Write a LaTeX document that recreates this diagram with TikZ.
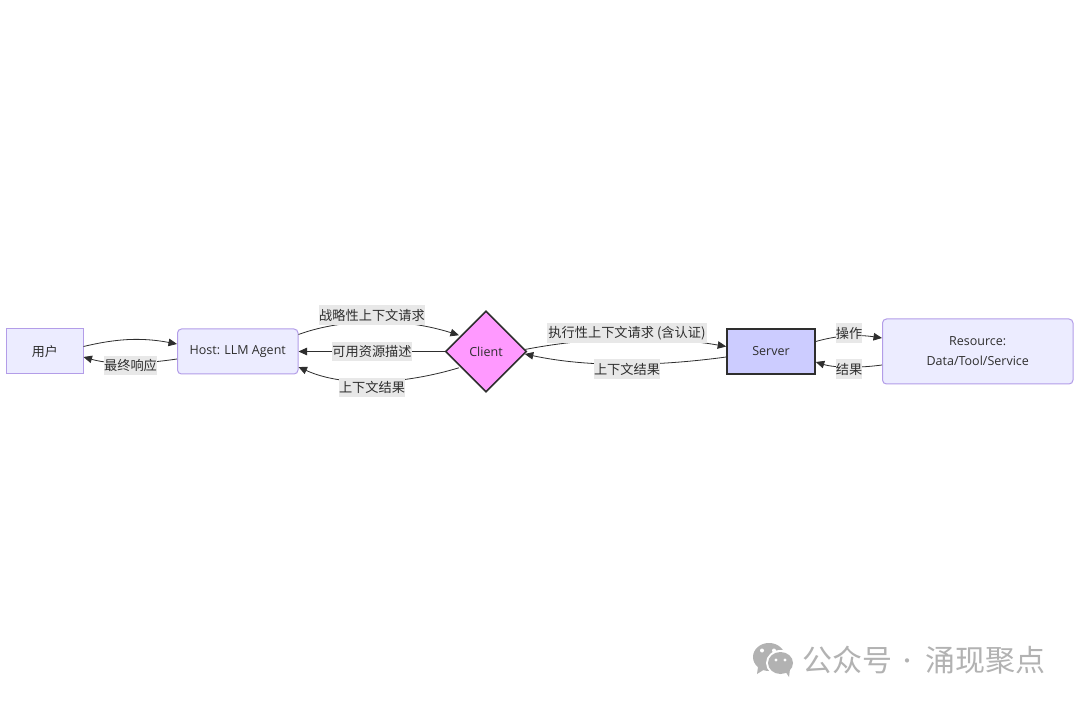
\documentclass[tikz,border=0pt]{standalone}
\usepackage{fontspec}
\setmainfont{Open Sans}
\newfontfamily\cjk{Noto Sans CJK SC}
\usetikzlibrary{arrows.meta,shapes.geometric,calc}
\definecolor{ink}{HTML}{2E2E2E}
\definecolor{lav}{HTML}{ECECFF}
\definecolor{lavline}{HTML}{B39DE8}
\definecolor{pinkfill}{HTML}{FF99FF}
\definecolor{bluefill}{HTML}{CCCCFF}
\definecolor{lblbg}{HTML}{E8E8E8}
\definecolor{wm}{HTML}{B2B2B2}
\tikzset{
  x=1pt,y=-1pt,
  every node/.style={text=ink,font=\fontsize{12.5}{20}\selectfont,align=center,inner sep=0pt},
  softbox/.style={draw=lavline,fill=lav,line width=1pt},
  hardbox/.style={draw=ink,fill=bluefill,line width=1.6pt},
  link/.style={draw=ink,line width=0.8pt,-{Triangle[length=8.5pt,width=7.5pt]}},
  lbl/.style={fill=lblbg,font=\fontsize{13.2}{15}\cjk,minimum height=19.5pt},
  wmtext/.style={text=wm,font=\fontsize{30}{31}\cjk}
}
\begin{document}
\begin{tikzpicture}
\useasboundingbox (0,0) rectangle (1080,703);
\fill[white] (0,0) rectangle (1080,703);

% nodes
\node[softbox,minimum width=76.5pt,minimum height=45pt,font=\fontsize{13}{15}\cjk] (user) at (44.75,351.5) {用户};
\node[softbox,rounded corners=4pt,minimum width=120.5pt,minimum height=45pt] (host) at (237.75,351.5) {\raisebox{-0.7pt}{Host: LLM Agent}};
\node[diamond,aspect=1,draw=ink,fill=pinkfill,line width=1.6pt,minimum width=81pt,minimum height=81pt] (client) at (486,351.5) {Client};
\node[hardbox,minimum width=88pt,minimum height=45pt] (server) at (771,351.5) {Server};
\node[softbox,rounded corners=4pt,minimum width=190.5pt,minimum height=65pt] (res) at (977.75,351.5) {Resource:\\Data/Tool/Service};

% connectors
\draw[link] ([yshift=5pt]user.east) .. controls (115,339) and (140,337) .. ([yshift=7.5pt]host.west);
\draw[link] ([yshift=-7.5pt]host.west) .. controls (150,363) and (115,366) .. ([yshift=-5.5pt]user.east);
\draw[link] ([yshift=17pt]host.east) .. controls (335,321) and (395,315) .. ($(client.north west)!0.26!(client.west)+(-1,-1)$);
\draw[link] (client.west) -- (host.east);
\draw[link] ($(client.south west)!0.26!(client.west)+(-1,1)$) .. controls (405,384) and (345,388) .. ([yshift=-15.5pt]host.east);
\draw[link] ($(client.north east)!0.9!(client.east)$) .. controls (590,337) and (660,335) .. ([yshift=5pt]server.west);
\draw[link] ([yshift=-5.5pt]server.west) .. controls (660,366) and (590,368) .. ($(client.south east)!0.88!(client.east)$);
\draw[link] ([yshift=10pt]server.east) .. controls (835,336) and (855,334) .. ([yshift=13.5pt]res.west);
\draw[link] ([yshift=-13.5pt]res.west) .. controls (860,368) and (835,368) .. ([yshift=-10.5pt]server.east);

% connector labels
\node[lbl,minimum width=53pt] (l1) at (130.5,365.5) {最终响应};
\node[lbl,minimum width=106pt] (l2) at (372,315) {战略性上下文请求};
\node[lbl,minimum width=80pt] (l3) at (372,351.5) {可用资源描述};
\node[lbl,minimum width=66pt] (l4) at (372,387.5) {上下文结果};
\node[lbl,minimum width=160pt] (l5) at (627,333) {执行性上下文请求 (含认证)};
\node[lbl,minimum width=66pt] (l6) at (627,369) {上下文结果};
\node[lbl,minimum width=26pt] (l7) at (849,333) {操作};
\node[lbl,minimum width=26pt] (l8) at (849,369) {结果};

% watermark
\node[wmtext,anchor=west] (wm1) at (802.5,660) {公众号};
\node[wmtext,anchor=center,font=\fontsize{20}{21}\cjk] (wm2) at (907.5,664) {·};
\node[wmtext,anchor=west] (wm3) at (925.5,660) {涌现聚点};
\fill[wm] (769,657) ellipse [x radius=16pt,y radius=14pt];
\fill[wm] (758,667) -- (757,674) -- (765,669) -- cycle;
\fill[white] (780.5,663) ellipse [x radius=14.5pt,y radius=13pt];
\fill[wm] (780.5,663) ellipse [x radius=12.5pt,y radius=11pt];
\fill[wm] (785,671) -- (789,677) -- (790,669) -- cycle;
\fill[white] (762,650.5) circle (2pt) (774,650.5) circle (2pt) (776,660) circle (1.7pt) (785,660) circle (1.7pt);
\end{tikzpicture}
\end{document}
